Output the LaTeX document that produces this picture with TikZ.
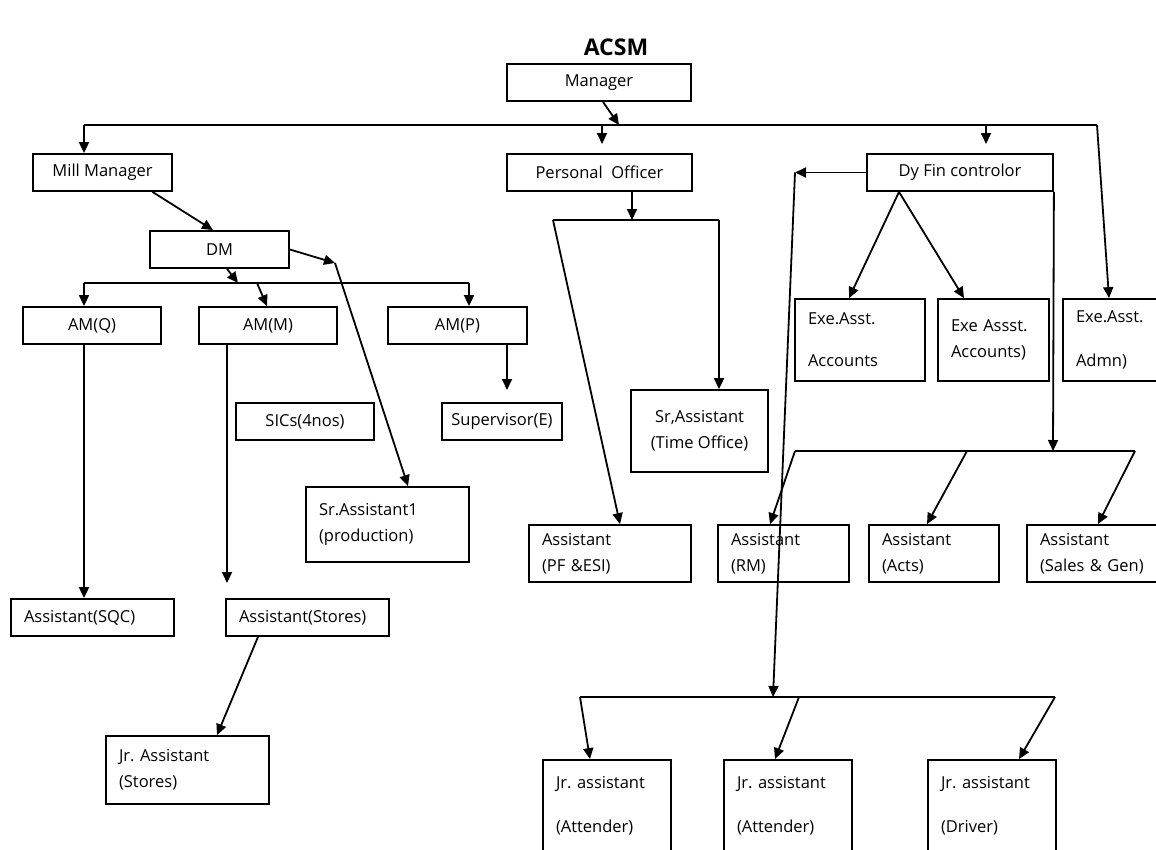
\documentclass[tikz,border=0pt]{standalone}
\usepackage{fontspec}
\setmainfont{Open Sans}
\frenchspacing
\usetikzlibrary{arrows.meta}

\begin{document}
\begin{tikzpicture}[x=1pt, y=-1pt, line width=1.8pt, >={Triangle[length=11pt,width=10pt]},
	box/.style={draw, inner sep=0pt, minimum height=37pt, align=center, font=\fontsize{16.5}{26}\selectfont},
	lbox/.style={box, align=left, inner xsep=13pt, text width=#1}]
	\useasboundingbox (0,0) rectangle (1156,849);
	\node[font=\bfseries\fontsize{23}{26}\selectfont] (T) at (616,47) {ACSM};
	\node[box, minimum width=184pt] (M) at (599,82.5) {Manager};
	\node[box, minimum width=139pt] (MM) at (102.5,172.5) {Mill Manager};
	\node[box, minimum width=185pt] (PO) at (599.5,172.5) {Personal\ \ Officer};
	\node[box, minimum width=186pt] (DF) at (960,172.5) {Dy Fin controlor};
	\node[box, minimum width=139pt] (DM) at (219.5,249.5) {DM};
	\node[box, minimum width=138pt] (AQ) at (92,325.5) {AM(Q)};
	\node[box, minimum width=138pt] (AM) at (268,325.5) {AM(M)};
	\node[box, minimum width=139pt] (AP) at (457.5,325.5) {AM(P)};
	\node[box, minimum width=138pt] (SI) at (305,421.5) {SICs(4nos)};
	\node[box, minimum width=120pt] (SU) at (502,421.5) {Supervisor(E)};
	\node[lbox=137pt, minimum height=75pt] (SA) at (387.5,524.5) {Sr.Assistant1\\(production)};
	\node[lbox=137pt] (AS) at (92.5,617.5) {Assistant(SQC)};
	\node[lbox=137pt] (AT) at (307.5,617.5) {Assistant(Stores)};
	\node[lbox=137pt, minimum height=68pt] (JS) at (187.5,770) {Jr. Assistant\\(Stores)};
	\node[box, minimum width=137pt, minimum height=82pt] (TO) at (699.5,431) {Sr,Assistant\\(Time Office)};
	\node[lbox=104pt, minimum height=82pt] (E1) at (860,340) {Exe.Asst.\\[16pt]Accounts};
	\node[lbox=85pt, minimum height=82pt] (E2) at (993.5,340) {Exe Assst.\\Accounts)};
	\node[lbox=76pt, minimum height=82pt] (E3) at (1114,340) {Exe.Asst.\\[18pt]Admn)};
	\node[lbox=136pt, minimum height=57pt] (A1) at (610,553.5) {Assistant\\(PF \&ESI)};
	\node[lbox=105pt, minimum height=57pt] (A2) at (783.5,553.5) {Assistant\\(RM)};
	\node[lbox=104pt, minimum height=57pt] (A3) at (934,553.5) {Assistant\\(Acts)};
	\node[lbox=112pt, minimum height=57pt] (A4) at (1096,553.5) {Assistant\\(Sales \& Gen)};
	\node[lbox=102pt, minimum height=92pt] (J1) at (607,806) {Jr. assistant\\[18pt](Attender)};
	\node[lbox=102pt, minimum height=92pt] (J2) at (788,806) {Jr. assistant\\[18pt](Attender)};
	\node[lbox=102pt, minimum height=92pt] (J3) at (992,806) {Jr. assistant\\[18pt](Driver)};
	\coordinate (b1l) at (84,125);
	\coordinate (b1p) at (602,125);
	\coordinate (b1m) at (619,125);
	\coordinate (b1d) at (986,125);
	\coordinate (b1r) at (1097,125);
	\coordinate (p1) at (602,144);
	\coordinate (p2) at (986,144);
	\coordinate (dmr) at (335,263);
	\coordinate (b2l) at (84,283);
	\coordinate (b2m) at (238,283);
	\coordinate (b2a) at (257,283);
	\coordinate (b2r) at (469,283);
	\coordinate (p3) at (507,390);
	\coordinate (p4) at (227,583);
	\coordinate (b3l) at (553,220);
	\coordinate (b3m) at (632,220);
	\coordinate (b3r) at (719,220);
	\coordinate (dfl) at (795,172.5);
	\coordinate (b4l) at (795,451);
	\coordinate (b4m) at (967,451);
	\coordinate (b4a) at (1053,451);
	\coordinate (b4r) at (1135,451);
	\coordinate (b5l) at (580,697);
	\coordinate (b5m) at (773,697);
	\coordinate (b5a) at (799,697);
	\coordinate (b5r) at (1055,697);
	\draw (b1l) -- (b1r);
	\draw[->] ([xshift=4pt]M.south) to (b1m);
	\draw[->] (b1l) to (b1l |- MM.north);
	\draw[->] (b1p) to (p1);
	\draw[->] (b1d) to (p2);
	\draw[->] (b1r) to ([xshift=-5pt]E3.north);
	\draw[->] ([xshift=50pt]MM.south) to ([xshift=-6.5pt]DM.north);
	\draw[->] (DM.east) to (dmr);
	\draw[->] (dmr) to ([xshift=20.5pt]SA.north);
	\draw[->] ([xshift=7.5pt]DM.south) to (b2m);
	\draw (b2l) -- (b2r);
	\draw[->] (b2l) to (b2l |- AQ.north);
	\draw[->] (b2a) to ([xshift=-1pt]AM.north);
	\draw[->] (b2r) to (b2r |- AP.north);
	\draw[->] ([xshift=49.5pt]AP.south) to (p3);
	\draw[->] (AQ.south -| b2l) to (AS.north -| b2l);
	\draw[->] ([xshift=-41pt]AM.south) to (p4);
	\draw[->] ([xshift=-49.5pt]AT.south) to ([xshift=29.5pt]JS.north);
	\draw[->] ([xshift=32.5pt]PO.south) to (b3m);
	\draw (b3l) -- (b3r);
	\draw[->] (b3l) to ([xshift=10pt]A1.north);
	\draw[->] (b3r) to (b3r |- TO.north);
	\draw[->] (DF.west) to (dfl);
	\draw[->] (dfl) to (b5m);
	\draw[->] ([xshift=-61pt]DF.south) to ([xshift=-11pt]E1.north);
	\draw[->] ([xshift=-61pt]DF.south) to ([xshift=-29.5pt]E2.north);
	\draw[->] (DF.south east) to (b4a);
	\draw (b4l) -- (b4r);
	\draw[->] (b4l) to ([xshift=-13.5pt]A2.north);
	\draw[->] (b4m) to ([xshift=-7pt]A3.north);
	\draw[->] (b4r) to ([xshift=2pt]A4.north);
	\draw (b5l) -- (b5r);
	\draw[->] (b5l) to ([xshift=-17pt]J1.north);
	\draw[->] (b5a) to ([xshift=-13pt]J2.north);
	\draw[->] (b5r) to ([xshift=27pt]J3.north);
\end{tikzpicture}
\end{document}
